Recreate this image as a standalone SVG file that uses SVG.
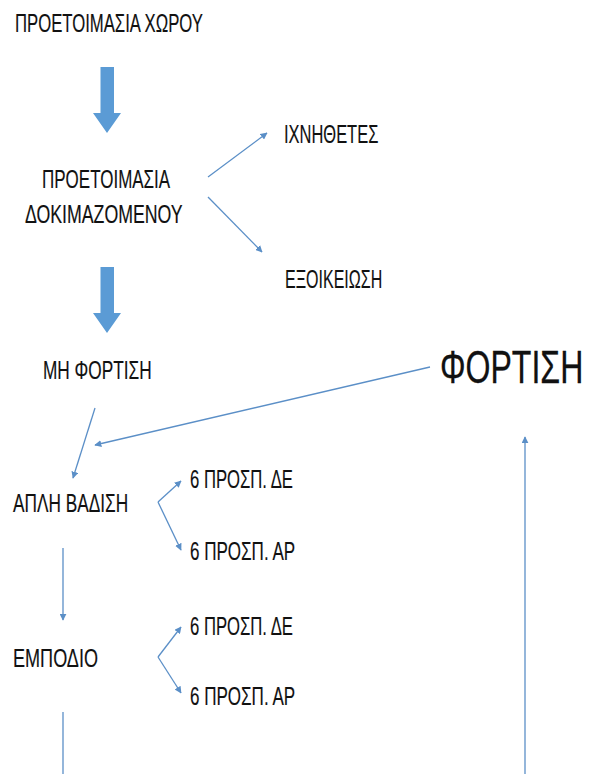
<svg xmlns="http://www.w3.org/2000/svg" width="592" height="774" viewBox="0 0 592 774">
<style>
text{font-family:"Liberation Sans Narrow","Liberation Sans",Arial,sans-serif;fill:#111;stroke:#111;stroke-width:0.15;font-size:25.5px}
.big{font-size:46px;stroke-width:0.3}
.c{fill:none;stroke:#5b8fc7;stroke-width:1.3}
.blk{fill:#5b9bd5}
</style>
<defs>
<marker id="ah" viewBox="0 0 10 10" refX="9" refY="5" markerWidth="7" markerHeight="7" markerUnits="userSpaceOnUse" orient="auto">
<path d="M0,0 L10,5 L0,10 Z" fill="#5b8fc7"/>
</marker>
</defs>
<rect width="592" height="774" fill="#fff"/>
<g id="n-xorou"><text transform="translate(15,32) scale(0.72,1)" textLength="261" lengthAdjust="spacingAndGlyphs">ΠΡΟΕΤΟΙΜΑΣΙΑ ΧΩΡΟΥ</text></g>
<g id="n-dokim"><text transform="translate(42,188) scale(0.72,1)" textLength="178" lengthAdjust="spacingAndGlyphs">ΠΡΟΕΤΟΙΜΑΣΙΑ</text><text transform="translate(25,223) scale(0.72,1)" textLength="219" lengthAdjust="spacingAndGlyphs">ΔΟΚΙΜΑΖΟΜΕΝΟΥ</text></g>
<g id="n-ixn"><text transform="translate(284,143) scale(0.72,1)" textLength="131" lengthAdjust="spacingAndGlyphs">ΙΧΝΗΘΕΤΕΣ</text></g>
<g id="n-exo"><text transform="translate(285,288) scale(0.72,1)" textLength="135" lengthAdjust="spacingAndGlyphs">ΕΞΟΙΚΕΙΩΣΗ</text></g>
<g id="n-mh"><text transform="translate(43,379) scale(0.72,1)" textLength="151" lengthAdjust="spacingAndGlyphs">ΜΗ ΦΟΡΤΙΣΗ</text></g>
<g id="n-fort"><text class="big" transform="translate(440,383) scale(0.72,1)" textLength="199" lengthAdjust="spacingAndGlyphs">ΦΟΡΤΙΣΗ</text></g>
<g id="n-apli"><text transform="translate(13,512) scale(0.72,1)" textLength="160" lengthAdjust="spacingAndGlyphs">ΑΠΛΗ ΒΑΔΙΣΗ</text></g>
<g id="n-de1"><text transform="translate(190,488) scale(0.72,1)" textLength="143" lengthAdjust="spacingAndGlyphs">6 ΠΡΟΣΠ. ΔΕ</text></g>
<g id="n-ar1"><text transform="translate(190,560) scale(0.72,1)" textLength="146" lengthAdjust="spacingAndGlyphs">6 ΠΡΟΣΠ. ΑΡ</text></g>
<g id="n-empod"><text transform="translate(13,667) scale(0.72,1)" textLength="118" lengthAdjust="spacingAndGlyphs">ΕΜΠΟΔΙΟ</text></g>
<g id="n-de2"><text transform="translate(190,635) scale(0.72,1)" textLength="143" lengthAdjust="spacingAndGlyphs">6 ΠΡΟΣΠ. ΔΕ</text></g>
<g id="n-ar2"><text transform="translate(190,705) scale(0.72,1)" textLength="146" lengthAdjust="spacingAndGlyphs">6 ΠΡΟΣΠ. ΑΡ</text></g>
<g id="connectors">
<path class="blk" d="M100.5,67 H114 V113 H121 L107,133 L93,113 H100.5 Z"/>
<path class="blk" d="M100.5,267 H114 V313 H121 L107,333 L93,313 H100.5 Z"/>
<path class="c" d="M208,177 L267,133" marker-end="url(#ah)"/>
<path class="c" d="M208,197 L262,252" marker-end="url(#ah)"/>
<path class="c" d="M430,367 L95,445" marker-end="url(#ah)"/>
<path class="c" d="M95,408 L73,478" marker-end="url(#ah)"/>
<path class="c" d="M158,502 L181,481" marker-end="url(#ah)"/>
<path class="c" d="M158,502 L181,550" marker-end="url(#ah)"/>
<path class="c" d="M63,548 L63,620" marker-end="url(#ah)"/>
<path class="c" d="M158,657 L181,627" marker-end="url(#ah)"/>
<path class="c" d="M158,657 L181,693" marker-end="url(#ah)"/>
<path class="c" d="M63,712 L63,774"/>
<path class="c" d="M525,774 L525,437" marker-end="url(#ah)"/>
</g>
</svg>
